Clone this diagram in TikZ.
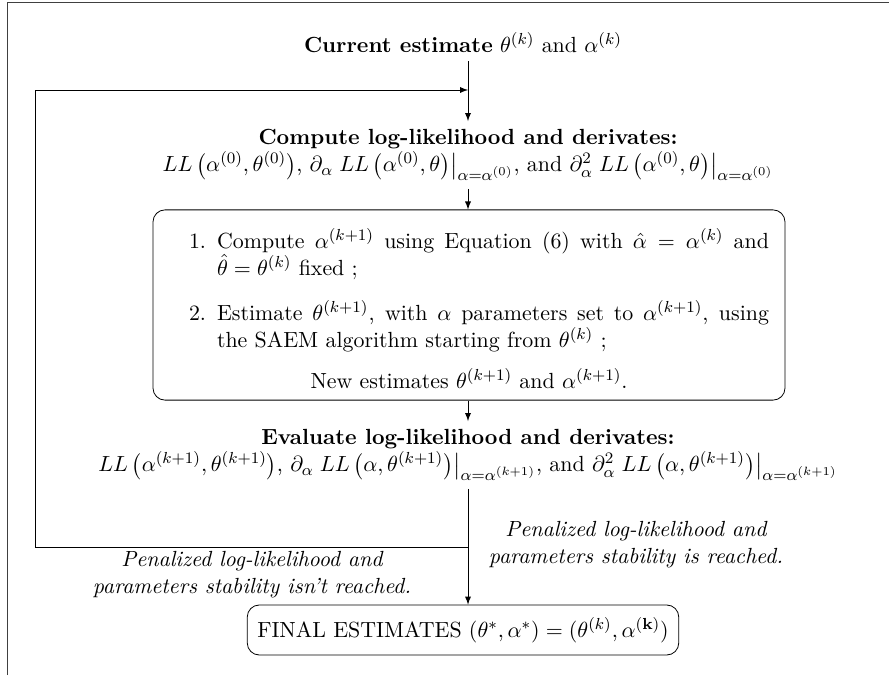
\documentclass[tikz,border=0pt,11pt]{standalone}
\usepackage{amsmath}
\usepackage{enumitem}
\usetikzlibrary{arrows, positioning, calc}

\begin{document}
\begin{tikzpicture}[
    x=0.5pt, y=0.5pt,
    stage/.style={align=center, inner sep=4pt},
    loopbox/.style={draw, rounded corners=6pt, text width=300pt, align=justify, inner xsep=8pt, inner ysep=5.5pt, minimum height=93pt},
    result/.style={draw, rounded corners=6pt, minimum height=25pt, inner sep=5pt},
    note/.style={font=\itshape, align=center},
    arrow/.style={->, >=latex}
]
\useasboundingbox (0,0) rectangle (889,675);

% =================== FRAME ===================
\draw[black!75] (7,0) |- (889,673);

% =================== CURRENT ESTIMATE ===================
\node[stage] (cur) at (463,632)
    {\textbf{Current estimate} $\theta^{(k)}$ and $\alpha^{(k)}$};

% =================== COMPUTE LL ===================
\node[stage] (comp) at (468,520)
{
    \textbf{Compute log-likelihood and derivates:}\\
    $LL\left(\alpha^{(0)},\theta^{(0)}\right)$,
    $\partial_\alpha \left.LL\left(\alpha^{(0)},\theta\right)\right|_{\alpha=\alpha^{(0)}}$,
    and $\partial^2_\alpha \left.LL\left(\alpha^{(0)},\theta\right)\right|_{\alpha=\alpha^{(0)}}$
};

% =================== ITERATION BOX ===================
\node[loopbox] (steps) at (469,370)
{
    \begin{enumerate}[leftmargin=24pt, topsep=0pt, partopsep=0pt]
    \item Compute $\alpha^{(k+1)}$ using Equation (6) with $\hat{\alpha} = \alpha^{(k)}$ and\linebreak
          $\hat{\theta} = \theta^{(k)}$ fixed ;
    \item Estimate $\theta^{(k+1)}$, with $\alpha$ parameters set to $\alpha^{(k+1)}$, using\linebreak
          the SAEM algorithm starting from $\theta^{(k)}$ ;
    \end{enumerate}
    \vspace{7pt}
    {\centering New estimates $\theta^{(k+1)}$ and $\alpha^{(k+1)}$.\par}
};

% =================== EVALUATE LL ===================
\node[stage] (eval) at (468,220)
{
    \textbf{Evaluate log-likelihood and derivates:}\\
    $LL\left(\alpha^{(k+1)},\theta^{(k+1)}\right)$,
    $\partial_\alpha \left.LL\left(\alpha,\theta^{(k+1)}\right)\right|_{\alpha=\alpha^{(k+1)}}$,
    and $\partial^2_\alpha \left.LL\left(\alpha,\theta^{(k+1)}\right)\right|_{\alpha=\alpha^{(k+1)}}$
};

% =================== FINAL ===================
\node[result] (fin) at (463,45)
    {FINAL ESTIMATES $(\theta^{*},\alpha^{*}) = (\theta^{(k)},\alpha^{(\mathbf{k})})$};

% =================== NOTES ===================
\node[note] (stop) at (636,130) {Penalized log-likelihood and\\parameters stability is reached.};
\node[note] (again) at (252,100) {Penalized log-likelihood and\\parameters stability isn't reached.};

% =================== ARROWS ===================
\coordinate (split) at (468,128);
\coordinate (back) at (35,128);
\coordinate (merge) at (468,585);

\draw[arrow] (cur.south -| comp.north) -- (comp.north);
\draw[arrow] (comp.south) -- (steps.north -| comp.south);
\draw[arrow] (steps.south -| eval.north) -- (eval.north);
\draw[arrow] (eval.south) -- (eval.south |- fin.north);
\draw[arrow] (split) -- (back) |- (merge);

\end{tikzpicture}
\end{document}
